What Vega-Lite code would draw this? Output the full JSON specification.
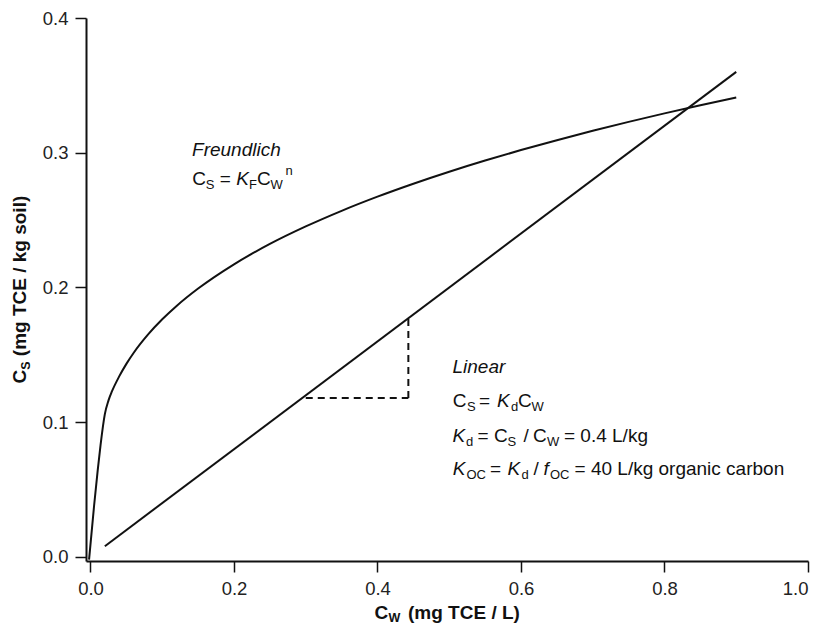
{
  "$schema": "https://vega.github.io/schema/vega-lite/v6.json",
  "autosize": {"type": "none"},
  "width": 722,
  "height": 543,
  "padding": {"left": 86, "top": 18, "right": 14, "bottom": 65},
  "background": "white",
  "config": {
    "view": {"stroke": null},
    "font": "Liberation Sans",
    "axis": {
      "grid": false,
      "domainColor": "#111111",
      "domainWidth": 2,
      "tickColor": "#111111",
      "tickWidth": 1.5,
      "tickSize": 11,
      "labelFont": "Liberation Sans",
      "labelFontSize": 18.5,
      "labelColor": "#222222",
      "labelPadding": 7,
      "title": null
    }
  },
  "datasets": {
    "curves": [
      {"curve": "Freundlich", "cw": -0.002, "cs": -0.002},
      {"curve": "Freundlich", "cw": 0.005, "cs": 0.038},
      {"curve": "Freundlich", "cw": 0.01, "cs": 0.064},
      {"curve": "Freundlich", "cw": 0.014, "cs": 0.083},
      {"curve": "Freundlich", "cw": 0.02, "cs": 0.106},
      {"curve": "Freundlich", "cw": 0.025, "cs": 0.116},
      {"curve": "Freundlich", "cw": 0.03, "cs": 0.1230},
      {"curve": "Freundlich", "cw": 0.04, "cs": 0.1340},
      {"curve": "Freundlich", "cw": 0.05, "cs": 0.1433},
      {"curve": "Freundlich", "cw": 0.06, "cs": 0.1514},
      {"curve": "Freundlich", "cw": 0.08, "cs": 0.1650},
      {"curve": "Freundlich", "cw": 0.1, "cs": 0.1764},
      {"curve": "Freundlich", "cw": 0.12, "cs": 0.1863},
      {"curve": "Freundlich", "cw": 0.15, "cs": 0.1992},
      {"curve": "Freundlich", "cw": 0.2, "cs": 0.2172},
      {"curve": "Freundlich", "cw": 0.25, "cs": 0.2323},
      {"curve": "Freundlich", "cw": 0.3, "cs": 0.2453},
      {"curve": "Freundlich", "cw": 0.35, "cs": 0.2569},
      {"curve": "Freundlich", "cw": 0.4, "cs": 0.2674},
      {"curve": "Freundlich", "cw": 0.45, "cs": 0.2770},
      {"curve": "Freundlich", "cw": 0.5, "cs": 0.2859},
      {"curve": "Freundlich", "cw": 0.55, "cs": 0.2942},
      {"curve": "Freundlich", "cw": 0.6, "cs": 0.3020},
      {"curve": "Freundlich", "cw": 0.65, "cs": 0.3093},
      {"curve": "Freundlich", "cw": 0.7, "cs": 0.3163},
      {"curve": "Freundlich", "cw": 0.75, "cs": 0.3229},
      {"curve": "Freundlich", "cw": 0.8, "cs": 0.3292},
      {"curve": "Freundlich", "cw": 0.85, "cs": 0.3353},
      {"curve": "Freundlich", "cw": 0.9, "cs": 0.3410},
      {"curve": "Linear", "cw": 0.02, "cs": 0.008},
      {"curve": "Linear", "cw": 0.9, "cs": 0.36}
    ],
    "guides": [
      {"cw": 0.30, "cs": 0.118, "cw2": 0.443, "cs2": 0.118},
      {"cw": 0.443, "cs": 0.118, "cw2": 0.443, "cs2": 0.178}
    ],
    "labels": [
      {"kind": "italic", "label": "Freundlich", "cw": 0.1415, "cs": 0.2976},
      {"kind": "normal", "label": "C", "cw": 0.1417, "cs": 0.2761},
      {"kind": "sub", "label": "S", "cw": 0.1608, "cs": 0.2761},
      {"kind": "normal", "label": "=", "cw": 0.1803, "cs": 0.2761},
      {"kind": "italic", "label": "K", "cw": 0.2031, "cs": 0.2761},
      {"kind": "sub", "label": "F", "cw": 0.2208, "cs": 0.2761},
      {"kind": "normal", "label": "C", "cw": 0.2319, "cs": 0.2761},
      {"kind": "sub", "label": "W", "cw": 0.2510, "cs": 0.2761},
      {"kind": "sup", "label": "n", "cw": 0.2718, "cs": 0.2761},

      {"kind": "italic", "label": "Linear", "cw": 0.5045, "cs": 0.1368},

      {"kind": "normal", "label": "C", "cw": 0.5049, "cs": 0.1111},
      {"kind": "sub", "label": "S", "cw": 0.5247, "cs": 0.1111},
      {"kind": "normal", "label": "=", "cw": 0.5415, "cs": 0.1111},
      {"kind": "italic", "label": "K", "cw": 0.5666, "cs": 0.1111},
      {"kind": "sub", "label": "d", "cw": 0.5861, "cs": 0.1111},
      {"kind": "normal", "label": "C", "cw": 0.5958, "cs": 0.1111},
      {"kind": "sub", "label": "W", "cw": 0.6146, "cs": 0.1111},

      {"kind": "italic", "label": "K", "cw": 0.5045, "cs": 0.0856},
      {"kind": "sub", "label": "d", "cw": 0.5233, "cs": 0.0856},
      {"kind": "normal", "label": "=", "cw": 0.5394, "cs": 0.0856},
      {"kind": "normal", "label": "C", "cw": 0.5624, "cs": 0.0856},
      {"kind": "sub", "label": "S", "cw": 0.5812, "cs": 0.0856},
      {"kind": "normal", "label": "/", "cw": 0.6035, "cs": 0.0856},
      {"kind": "normal", "label": "C", "cw": 0.6167, "cs": 0.0856},
      {"kind": "sub", "label": "W", "cw": 0.6362, "cs": 0.0856},
      {"kind": "normal", "label": "= 0.4 L/kg", "cw": 0.6599, "cs": 0.0856},

      {"kind": "italic", "label": "K", "cw": 0.5049, "cs": 0.0609},
      {"kind": "sub", "label": "OC", "cw": 0.5240, "cs": 0.0609},
      {"kind": "normal", "label": "=", "cw": 0.5568, "cs": 0.0609},
      {"kind": "italic", "label": "K", "cw": 0.5812, "cs": 0.0609},
      {"kind": "sub", "label": "d", "cw": 0.6007, "cs": 0.0609},
      {"kind": "normal", "label": "/", "cw": 0.6174, "cs": 0.0609},
      {"kind": "italic", "label": "f", "cw": 0.6314, "cs": 0.0609},
      {"kind": "sub", "label": "OC", "cw": 0.6404, "cs": 0.0609},
      {"kind": "normal", "label": "= 40 L/kg organic carbon", "cw": 0.6746, "cs": 0.0609},

      {"kind": "xtitle", "label": "C", "cw": 0.3958, "cs": -0.0464},
      {"kind": "xtitlesub", "label": "W", "cw": 0.4153, "cs": -0.0464},
      {"kind": "xtitle", "label": "(mg TCE / L)", "cw": 0.4425, "cs": -0.0464},

      {"kind": "ytitle", "label": "C", "cw": -0.0899, "cs": 0.1288},
      {"kind": "ytitlesub", "label": "S", "cw": -0.0899, "cs": 0.1389},
      {"kind": "ytitle", "label": "(mg TCE / kg soil)", "cw": -0.0899, "cs": 0.1490}
    ]
  },
  "encoding": {
    "x": {
      "field": "cw", "type": "quantitative",
      "scale": {"domain": [-0.00627, 1.0], "nice": false, "zero": false},
      "axis": {"values": [0, 0.2, 0.4, 0.6, 0.8, 1.0], "format": ".1f", "title": null}
    },
    "y": {
      "field": "cs", "type": "quantitative",
      "scale": {"domain": [-0.003, 0.4], "nice": false, "zero": false},
      "axis": {"values": [0, 0.1, 0.2, 0.3, 0.4], "format": ".1f", "title": null}
    }
  },
  "layer": [
    {
      "data": {"name": "curves"},
      "mark": {"type": "line", "color": "#111111", "strokeWidth": 2, "interpolate": "monotone"},
      "encoding": {"detail": {"field": "curve", "type": "nominal"}, "order": {"field": "cw", "type": "quantitative"}}
    },
    {
      "data": {"name": "guides"},
      "mark": {"type": "rule", "color": "#111111", "strokeWidth": 2, "strokeDash": [7, 5]},
      "encoding": {
        "x2": {"field": "cw2"},
        "y2": {"field": "cs2"}
      }
    },
    {
      "data": {"name": "labels"},
      "transform": [{"filter": "datum.kind === 'normal'"}],
      "mark": {"type": "text", "align": "left", "baseline": "alphabetic", "font": "Liberation Sans", "fontSize": 19, "color": "#111111"},
      "encoding": {"text": {"field": "label"}}
    },
    {
      "data": {"name": "labels"},
      "transform": [{"filter": "datum.kind === 'italic'"}],
      "mark": {"type": "text", "align": "left", "baseline": "alphabetic", "font": "Liberation Sans", "fontSize": 19, "fontStyle": "italic", "color": "#111111"},
      "encoding": {"text": {"field": "label"}}
    },
    {
      "data": {"name": "labels"},
      "transform": [{"filter": "datum.kind === 'sub'"}],
      "mark": {"type": "text", "align": "left", "baseline": "alphabetic", "font": "Liberation Sans", "fontSize": 13, "dy": 4, "color": "#111111"},
      "encoding": {"text": {"field": "label"}}
    },
    {
      "data": {"name": "labels"},
      "transform": [{"filter": "datum.kind === 'sup'"}],
      "mark": {"type": "text", "align": "left", "baseline": "alphabetic", "font": "Liberation Sans", "fontSize": 13, "dy": -10, "color": "#111111"},
      "encoding": {"text": {"field": "label"}}
    },
    {
      "data": {"name": "labels"},
      "transform": [{"filter": "datum.kind === 'xtitle'"}],
      "mark": {"type": "text", "align": "left", "baseline": "alphabetic", "font": "Liberation Sans", "fontSize": 19, "fontWeight": "bold", "color": "#111111"},
      "encoding": {"text": {"field": "label"}}
    },
    {
      "data": {"name": "labels"},
      "transform": [{"filter": "datum.kind === 'xtitlesub'"}],
      "mark": {"type": "text", "align": "left", "baseline": "alphabetic", "font": "Liberation Sans", "fontSize": 12.5, "fontWeight": "bold", "dy": 3, "color": "#111111"},
      "encoding": {"text": {"field": "label"}}
    },
    {
      "data": {"name": "labels"},
      "transform": [{"filter": "datum.kind === 'ytitle'"}],
      "mark": {"type": "text", "align": "left", "baseline": "alphabetic", "font": "Liberation Sans", "fontSize": 19, "fontWeight": "bold", "angle": 270, "color": "#111111"},
      "encoding": {"text": {"field": "label"}}
    },
    {
      "data": {"name": "labels"},
      "transform": [{"filter": "datum.kind === 'ytitlesub'"}],
      "mark": {"type": "text", "align": "left", "baseline": "alphabetic", "font": "Liberation Sans", "fontSize": 12.5, "fontWeight": "bold", "angle": 270, "dy": 4, "color": "#111111"},
      "encoding": {"text": {"field": "label"}}
    }
  ]
}
